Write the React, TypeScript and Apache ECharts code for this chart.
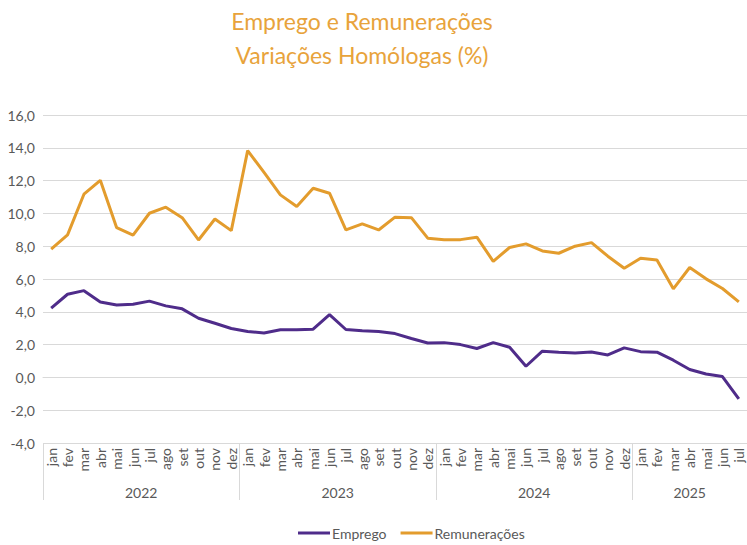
import React, { useEffect, useRef } from "react";
import * as echarts from "echarts";

const months = ["jan", "fev", "mar", "abr", "mai", "jun", "jul", "ago", "set", "out", "nov", "dez"];
const years = ["2022", "2023", "2024", "2025"];
const monthsPerYear = [12, 12, 12, 7];

const emprego = [
  4.22, 5.07, 5.29, 4.6, 4.42, 4.46, 4.65, 4.36, 4.18, 3.61, 3.3, 2.98,
  2.8, 2.71, 2.9, 2.91, 2.94, 3.83, 2.92, 2.84, 2.8, 2.67, 2.37, 2.1,
  2.12, 2.0, 1.76, 2.12, 1.84, 0.68, 1.6, 1.54, 1.49, 1.55, 1.37, 1.8,
  1.57, 1.54, 1.05, 0.48, 0.21, 0.05, -1.31,
];
const remuneracoes = [
  7.82, 8.69, 11.17, 12.02, 9.13, 8.67, 10.01, 10.38, 9.74, 8.38, 9.66, 8.95,
  13.83, 12.5, 11.13, 10.42, 11.53, 11.23, 8.99, 9.36, 8.99, 9.77, 9.74, 8.49,
  8.4, 8.4, 8.55, 7.08, 7.92, 8.14, 7.71, 7.57, 8.0, 8.22, 7.39, 6.66,
  7.27, 7.16, 5.4, 6.7, 6.01, 5.42, 4.6,
];

const TITLE = "Emprego e Remunerações\nVariações Homólogas (%)";
const ORANGE = "#E39C2D";
const PURPLE = "#4F2C8A";
const GRID = "#D9D9D9";
const TXT = "#595959";
const FONT = "Lato";

export default function App() {
  const ref = useRef<HTMLDivElement>(null);
  useEffect(() => {
    if (!ref.current) return;
    const chart = echarts.init(ref.current, undefined, { renderer: "svg" });

    const monthCats: string[] = [];
    monthsPerYear.forEach((n) => {
      for (let i = 0; i < n; i++) monthCats.push(months[i]);
    });
    const total = monthCats.length;
    // half-month slots for the year axis (boundaryGap false -> slot k sits at k/2 months)
    const halfSlots: string[] = new Array(total * 2 + 1).fill("");
    const startSlots: number[] = [];
    let start = 0;
    years.forEach((y, i) => {
      startSlots.push(start * 2);
      halfSlots[start * 2 + monthsPerYear[i]] = y;
      start += monthsPerYear[i];
    });

    chart.setOption({
      animation: false,
      title: {
        text: TITLE,
        left: 362,
        top: 0,
        padding: [4, 0, 0, 0],
        textAlign: "center",
        textStyle: {
          color: "#E8A33B",
          fontFamily: FONT,
          fontSize: 23,
          fontWeight: "normal",
          lineHeight: 34,
        },
      },
      legend: {
        left: 293,
        top: 521,
        itemWidth: 32,
        itemHeight: 3,
        itemGap: 14,
        icon: "rect",
        textStyle: { color: TXT, fontFamily: FONT, fontSize: 14, padding: [0, 0, 0, -3] },
        data: ["Emprego", "Remunerações"],
      },
      grid: [
        { left: 43, right: 0, top: 115, bottom: 102 },
        { left: 43, right: 0, top: 443, bottom: 45 },
      ],
      xAxis: [
        {
          type: "category",
          gridIndex: 0,
          data: monthCats,
          boundaryGap: true,
          axisLine: { show: true, lineStyle: { color: GRID, width: 1 } },
          axisTick: { show: false },
          axisLabel: {
            rotate: 90,
            interval: 0,
            margin: 5,
            color: TXT,
            fontFamily: FONT,
            fontSize: 14,
          },
        },
        {
          type: "category",
          gridIndex: 1,
          data: halfSlots,
          boundaryGap: false,
          position: "top",
          axisLine: { show: false },
          axisTick: { show: false },
          splitLine: {
            show: true,
            interval: (idx: number) => startSlots.includes(idx),
            lineStyle: { color: GRID, width: 1 },
          },
          axisLabel: {
            inside: true,
            interval: (idx: number) => halfSlots[idx] !== "",
            margin: 42,
            color: TXT,
            fontFamily: FONT,
            fontSize: 14,
          },
        },
      ],
      yAxis: [
        {
          type: "value",
          gridIndex: 0,
          min: -4,
          max: 16,
          interval: 2,
          axisLine: { show: false },
          axisTick: { show: false },
          splitLine: { lineStyle: { color: GRID, width: 1 } },
          axisLabel: {
            margin: 8,
            color: TXT,
            fontFamily: FONT,
            fontSize: 14,
            formatter: (v: number) => v.toFixed(1).replace(".", ","),
          },
        },
        {
          type: "value",
          gridIndex: 1,
          show: false,
          splitLine: { show: false },
        },
      ],
      series: [
        {
          name: "Emprego",
          type: "line",
          data: emprego,
          xAxisIndex: 0,
          yAxisIndex: 0,
          symbol: "none",
          lineStyle: { color: PURPLE, width: 3 },
          itemStyle: { color: PURPLE },
        },
        {
          name: "Remunerações",
          type: "line",
          data: remuneracoes,
          xAxisIndex: 0,
          yAxisIndex: 0,
          symbol: "none",
          lineStyle: { color: ORANGE, width: 3 },
          itemStyle: { color: ORANGE },
        },
      ],
    });
    return () => chart.dispose();
  }, []);
  return (
    <div
      ref={ref}
      style={{ position: "fixed", left: 0, top: 0, width: 747, height: 545, background: "#fff" }}
    />
  );
}
